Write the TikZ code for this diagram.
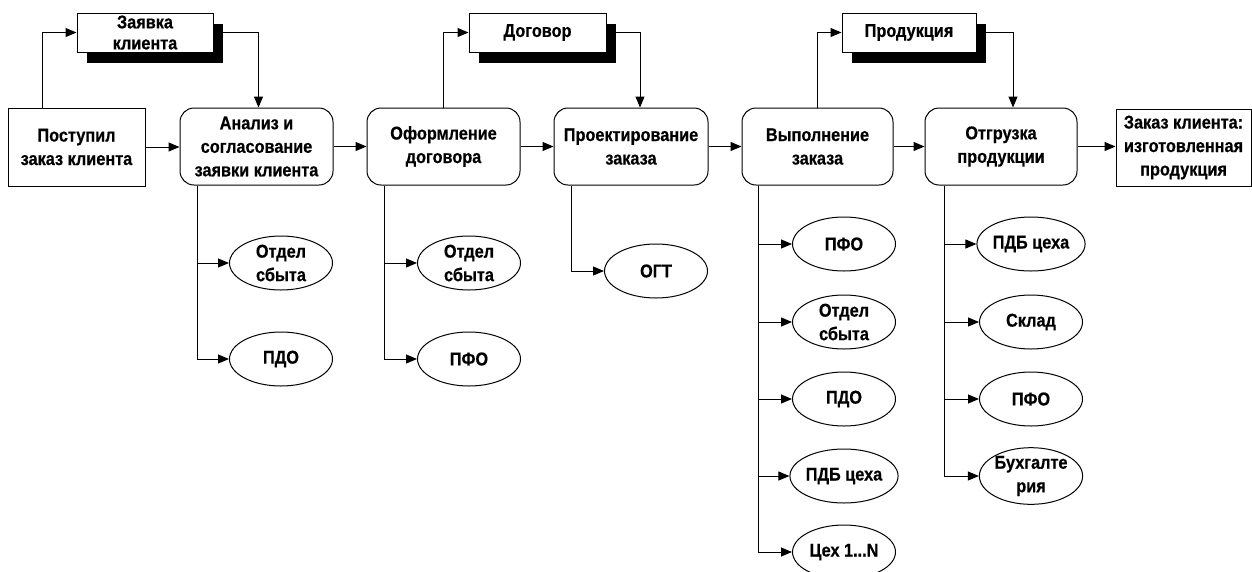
\documentclass[tikz,border=0pt]{standalone}
\usepackage{fontspec}
\setmainfont{Liberation Sans}[FakeStretch=0.88, BoldFeatures={FakeBold=0.5}]
\usetikzlibrary{arrows.meta,shadows,calc,shapes.geometric}
\begin{document}
\begin{tikzpicture}[x=1pt,y=-1pt,
  every node/.style={font=\bfseries\fontsize{18.5}{23.5}\selectfont, align=center, line width=1pt},
  sqbox/.style={draw, rectangle, fill=white, minimum height=78pt, inner sep=0pt},
  rbox/.style={draw, rectangle, rounded corners=14pt, fill=white, minimum height=77pt, inner sep=0pt},
  docbox/.style={draw, rectangle, fill=white, minimum height=39pt, inner sep=0pt,
    font=\bfseries\fontsize{18.5}{21}\selectfont,
    drop shadow={shadow xshift=10pt, shadow yshift=-11pt, fill=black, opacity=1}},
  oval/.style={draw, ellipse, fill=white, minimum width=103pt, minimum height=54pt, inner sep=0pt},
  arr/.style={line width=1pt, -{Triangle[length=11pt,width=9pt]}}
]
\useasboundingbox (0,0) rectangle (1252,571);

% main boxes
\node[sqbox, minimum width=137pt] (post) at (76.5,147) {Поступил\\заказ клиента};
\node[rbox, minimum width=153pt] (analiz) at (256.5,146.5) {Анализ и\\согласование\\заявки клиента};
\node[rbox, minimum width=153pt] (oform) at (443.5,146.5) {Оформление\\договора};
\node[rbox, minimum width=154pt] (proekt) at (631,146.5) {Проектирование\\заказа};
\node[rbox, minimum width=151pt] (vypoln) at (817.5,146.5) {Выполнение\\заказа};
\node[rbox, minimum width=152pt] (otgruz) at (1001,146.5) {Отгрузка\\продукции};
\node[sqbox, minimum width=135pt, minimum height=77pt] (final) at (1183.5,147.5) {Заказ клиента:\\изготовленная\\продукция};

% document boxes
\node[docbox, minimum width=136pt] (zayavka) at (145,32.5) {Заявка\\клиента};
\node[docbox, minimum width=137pt] (dogovor) at (537.5,32.5) {Договор};
\node[docbox, minimum width=134pt] (produkcia) at (909,32.5) {Продукция};

% ellipses
\node[oval] (a1) at (281,263) {Отдел\\сбыта};
\node[oval] (a2) at (281,359) {ПДО};
\node[oval] (o1) at (469,263) {Отдел\\сбыта};
\node[oval] (o2) at (469,359) {ПФО};
\node[oval] (p1) at (656,271) {ОГТ};
\node[oval] (v1) at (844,244) {ПФО};
\node[oval] (v2) at (844,322) {Отдел\\сбыта};
\node[oval] (v3) at (844,399) {ПДО};
\node[oval] (v4) at (844,476) {ПДБ цеха};
\node[oval] (v5) at (844,552) {Цех 1...N};
\node[oval] (g1) at (1031,244) {ПДБ цеха};
\node[oval] (g2) at (1031,322) {Склад};
\node[oval] (g3) at (1031,399) {ПФО};
\node[oval] (g4) at (1031,476) {Бухгалте\\рия};

% main flow
\draw[arr] (post.east) -- (post.east -| analiz.west);
\draw[arr] (analiz) -- (oform);
\draw[arr] (oform) -- (proekt);
\draw[arr] (proekt) -- (vypoln);
\draw[arr] (vypoln) -- (otgruz);
\draw[arr] (otgruz.east) -- (otgruz.east -| final.west);

% document loops
\draw[arr] ([xshift=35pt]post.north west) |- (zayavka.west);
\draw[arr] (zayavka.east) -| ([xshift=2pt]analiz.north);
\draw[arr] (oform.north) |- (dogovor.west);
\draw[arr] (dogovor.east) -| ([xshift=9pt]proekt.north);
\draw[arr] (vypoln.north) |- (produkcia.west);
\draw[arr] (produkcia.east) -| ([xshift=12pt]otgruz.north);

% branches
\foreach \n in {a1,a2} \draw[arr] ([xshift=18pt]analiz.south west) |- (\n.west);
\foreach \n in {o1,o2} \draw[arr] ([xshift=18pt]oform.south west) |- (\n.west);
\draw[arr] ([xshift=18pt]proekt.south west) |- (p1.west);
\foreach \n in {v1,v2,v3,v4,v5} \draw[arr] ([xshift=17pt]vypoln.south west) |- (\n.west);
\foreach \n in {g1,g2,g3,g4} \draw[arr] ([xshift=20pt]otgruz.south west) |- (\n.west);
\end{tikzpicture}
\end{document}
